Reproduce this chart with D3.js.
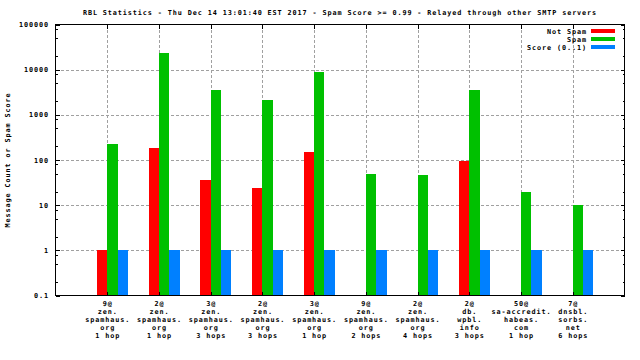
<!DOCTYPE html>
<html><head><meta charset="utf-8">
<script src="https://cdn.jsdelivr.net/npm/d3@7"></script>
<style>
body{margin:0;background:#fff;}
text{font-family:"DejaVu Sans Mono",monospace;font-size:6.8px;letter-spacing:0.9px;font-weight:bold;fill:#000;}
</style></head><body>
<svg id="c" width="640" height="360"></svg>
<script>
const title = "RBL Statistics - Thu Dec 14 13:01:40 EST 2017 - Spam Score >= 0.99 - Relayed through other SMTP servers";
const yLabel = "Message Count or Spam Score";
const categories = [
  ["9@","zen.","spamhaus.","org","1 hop"],
  ["2@","zen.","spamhaus.","org","1 hop"],
  ["3@","zen.","spamhaus.","org","3 hops"],
  ["2@","zen.","spamhaus.","org","3 hops"],
  ["3@","zen.","spamhaus.","org","1 hop"],
  ["9@","zen.","spamhaus.","org","2 hops"],
  ["2@","zen.","spamhaus.","org","4 hops"],
  ["2@","db.","wpbl.","info","3 hops"],
  ["50@","sa-accredit.","habeas.","com","1 hop"],
  ["7@","dnsbl.","sorbs.","net","6 hops"]
];
const notSpam = [1, 182, 35.6, 23.7, 149, null, null, 94, null, null];
const spam = [224, 23300, 3530, 2120, 8850, 48, 46, 3600, 19.3, 10];
const score = [1, 1, 1, 1, 1, 1, 1, 1, 1, 1];
const seriesNames = ["Not Spam", "Spam", "Score (0..1)"];
const colors = ["#ff0000", "#00c000", "#0080ff"];
const yTicks = [0.1, 1, 10, 100, 1000, 10000, 100000];
const yTickLabels = ["0.1", "1", "10", "100", "1000", "10000", "100000"];
const minorMult = [2, 5, 8];

const svg = d3.select("#c");
const L = 55.5, R = 624.5, T = 24.5, B = 295.5;
const x = d3.scaleLinear().domain([-1, 10]).range([L, R]);
const y = d3.scaleLog().domain([0.1, 100000]).range([B, T]);

// grid
const g = svg.append("g").attr("stroke", "#a0a0a0").attr("stroke-dasharray", "3,2").attr("shape-rendering","crispEdges");
yTicks.slice(1, -1).forEach(v => {
  g.append("line").attr("x1", L).attr("x2", R).attr("y1", Math.round(y(v))+0.5).attr("y2", Math.round(y(v))+0.5);
});
categories.forEach((c, i) => {
  const xx = Math.round(x(i)) + 0.5;
  g.append("line").attr("x1", xx).attr("x2", xx).attr("y1", T).attr("y2", B);
});

// bars
const series = [notSpam, spam, score];
const offsets = [-0.2, 0, 0.2];
series.forEach((s, k) => {
  svg.append("g").selectAll("rect").data(s.map((v, i) => ({v, i})).filter(d => d.v != null))
    .join("rect")
    .attr("x", d => Math.round(x(d.i + offsets[k])))
    .attr("width", d => Math.round(x(d.i + offsets[k] + 0.2)) - Math.round(x(d.i + offsets[k])))
    .attr("y", d => Math.round(y(d.v)))
    .attr("height", d => B - Math.round(y(d.v)))
    .attr("fill", colors[k])
    .attr("shape-rendering", "crispEdges");
});

// axes frame
const ax = svg.append("g").attr("stroke", "#000").attr("shape-rendering", "crispEdges");
ax.append("rect").attr("x", L).attr("y", T).attr("width", R - L).attr("height", B - T).attr("fill", "none");
yTicks.forEach(v => {
  const yy = Math.round(y(v)) + 0.5;
  ax.append("line").attr("x1", L).attr("x2", L + 4).attr("y1", yy).attr("y2", yy);
  ax.append("line").attr("x1", R - 4).attr("x2", R).attr("y1", yy).attr("y2", yy);
});
yTicks.slice(0, -1).forEach(v => {
  minorMult.forEach(m => {
    const yy = Math.round(y(v * m)) + 0.5;
    ax.append("line").attr("x1", L).attr("x2", L + 2).attr("y1", yy).attr("y2", yy);
    ax.append("line").attr("x1", R - 2).attr("x2", R).attr("y1", yy).attr("y2", yy);
  });
});
categories.forEach((c, i) => {
  const xx = Math.round(x(i)) + 0.5;
  ax.append("line").attr("x1", xx).attr("x2", xx).attr("y1", T).attr("y2", T + 4);
  ax.append("line").attr("x1", xx).attr("x2", xx).attr("y1", B - 4).attr("y2", B);
});

// y tick labels
yTicks.forEach((v, i) => {
  svg.append("text").attr("x", 49).attr("y", y(v) + 2.5).attr("text-anchor", "end").text(yTickLabels[i]);
});
// x tick labels
categories.forEach((c, i) => {
  const t = svg.append("text").attr("text-anchor", "middle");
  c.forEach((line, j) => {
    t.append("tspan").attr("x", x(i) + 0.5).attr("y", 306 + j * 7.9).text(line);
  });
});

// title
svg.append("text").attr("x", (L + R) / 2).attr("y", 15).attr("text-anchor", "middle").text(title);
// y label
svg.append("text").attr("transform", `translate(9.5,${(T + B) / 2}) rotate(-90)`).attr("text-anchor", "middle").text(yLabel);

// legend
seriesNames.forEach((n, k) => {
  const yy = 31.3 + k * 7.9;
  svg.append("text").attr("x", 587).attr("y", yy + 2.5).attr("text-anchor", "end").text(n);
  svg.append("rect").attr("x", 591).attr("y", Math.round(yy - 2)).attr("width", 24).attr("height", 4)
    .attr("fill", colors[k]).attr("shape-rendering", "crispEdges");
});
</script>
</body></html>
